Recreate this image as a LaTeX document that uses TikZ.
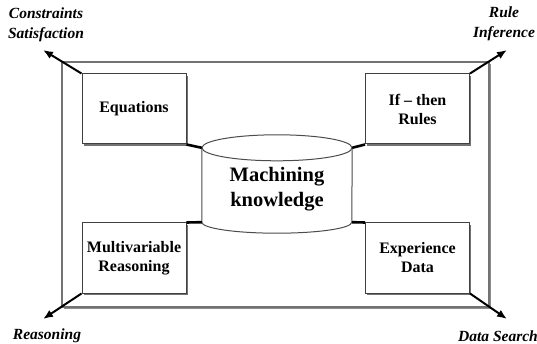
\documentclass[tikz,border=0pt]{standalone}
\usepackage{fontspec}
\setmainfont{Liberation Serif}
\usetikzlibrary{arrows.meta,shadows}
\begin{document}
\begin{tikzpicture}[x=1pt,y=-1pt,
  frame/.style={draw=black!55,line width=1.2pt,fill=white,inner sep=0pt,
    drop shadow={shadow xshift=1.6pt,shadow yshift=-1.6pt,fill=black!45,opacity=1}},
  box/.style={draw=black!75,line width=1pt,fill=white,inner sep=0pt,
    minimum width=104pt,minimum height=70pt,align=center,
    font=\fontsize{16}{19}\selectfont\bfseries,
    drop shadow={shadow xshift=1.6pt,shadow yshift=-1.6pt,fill=black!55,opacity=1}},
  cyl/.style={draw=black!70,line width=1pt},
  link/.style={line width=2.6pt,black},
  outarrow/.style={line width=2pt,black,-{Latex[length=10pt,width=8pt]}},
  lbl/.style={font=\fontsize{15.5}{20}\selectfont\bfseries\itshape,align=center,inner sep=0pt}]
\useasboundingbox (0,0) rectangle (537,344);
\clip (0,0) rectangle (537,344);

% outer frame
\node[frame,minimum width=427pt,minimum height=245pt] (frame) at (275.5,184.5) {};

% the four knowledge forms
\node[box] (eq)  at (134,109) {Equations};
\node[box] (ifr) at (417.5,109) {If -- then\\Rules};
\node[box] (mv)  at (134,258) {Multivariable\\Reasoning};
\node[box] (ex)  at (417.5,258) {Experience\\Data};

% central knowledge base (cylinder body)
\node[inner sep=0pt,minimum width=150pt,minimum height=74pt] (kb) at (277,185) {};
\fill[white] (kb.north west) -- (kb.south west) arc[start angle=180,end angle=360,x radius=75pt,y radius=11pt] -- (kb.north east) -- cycle;
\draw[cyl] (kb.north west) -- (kb.south west) arc[start angle=180,end angle=360,x radius=75pt,y radius=11pt] -- (kb.north east);
\draw[cyl,fill=white] (kb.north) ellipse[x radius=75pt,y radius=13pt];
\node[font=\fontsize{20.5}{25}\selectfont\bfseries,align=center] (kbtext) at (277,189) {Machining\\knowledge};

% links to the knowledge base
\draw[link] (eq.south east) -- (kb.north west);
\draw[link] (ifr.south west) -- (kb.north east);
\draw[link] (mv.north east) -- (kb.south west);
\draw[link] (ex.north west) -- (kb.south east);

% outward reasoning directions
\coordinate (tl) at (43,50);
\coordinate (tr) at (507,50);
\coordinate (bl) at (43,319);
\coordinate (br) at (507,319);
\draw[outarrow] (eq.north west) -- (tl);
\draw[outarrow] (ifr.north east) -- (tr);
\draw[outarrow] (mv.south west) -- (bl);
\draw[outarrow] (ex.south east) -- (br);

\node[lbl] (cs) at (46,25) {Constraints\\Satisfaction};
\node[lbl] (ri) at (504,24) {Rule\\Inference};
\node[lbl] (rs) at (47,336) {Reasoning};
\node[lbl,anchor=west] (ds) at (458,336) {Data Search};
\end{tikzpicture}
\end{document}
